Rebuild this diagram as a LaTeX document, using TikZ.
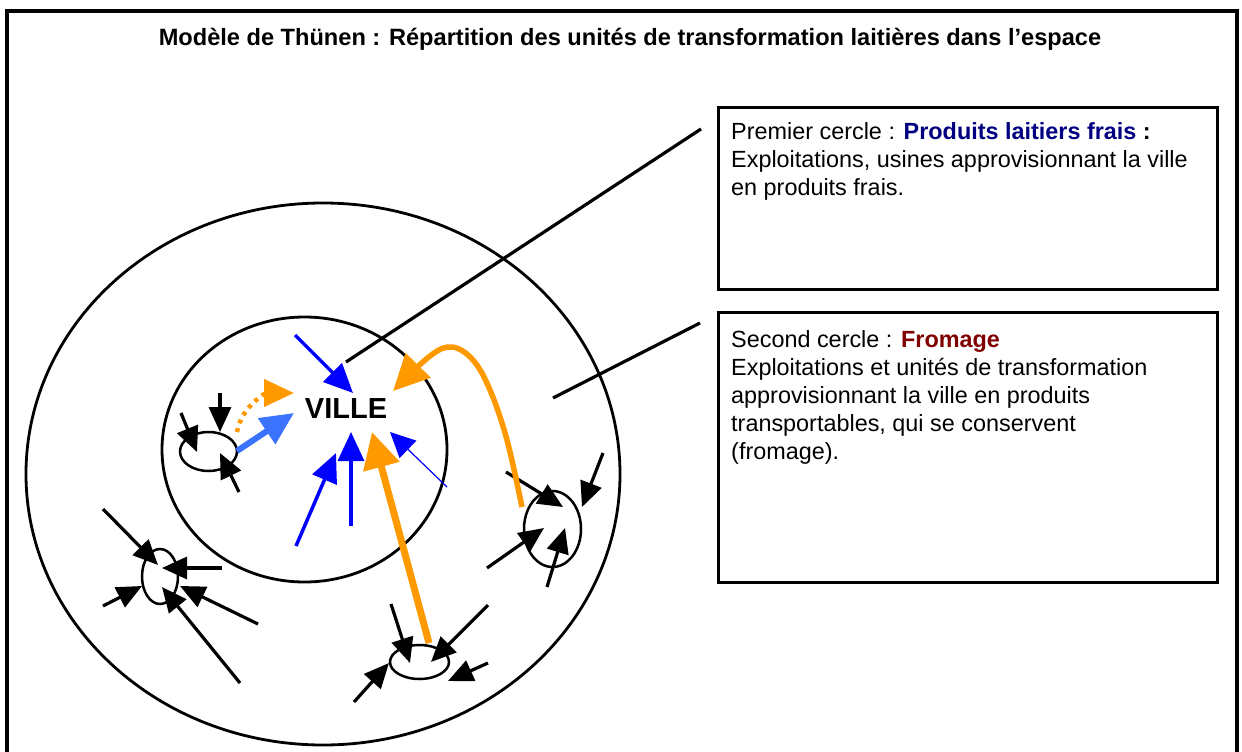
\documentclass[tikz,border=0pt]{standalone}
\usepackage{fontspec}
\setmainfont{Liberation Sans}
\usetikzlibrary{arrows.meta,shapes.geometric}
\definecolor{orng}{RGB}{255,153,0}
\definecolor{vblue}{RGB}{0,0,255}
\definecolor{lblue}{RGB}{59,115,255}
\definecolor{navyc}{RGB}{0,0,128}
\definecolor{fromred}{RGB}{128,0,0}
\begin{document}
\begin{tikzpicture}[x=1pt,y=-1pt,
  frameline/.style={line width=3.5pt},
  ring/.style={line width=2.8pt},
  boxstyle/.style={draw,line width=3pt,anchor=north west,inner sep=0pt},
  farm/.style={draw,ellipse,line width=2.5pt,inner sep=0pt},
  leader/.style={line width=3.2pt},
  blk/.style={line width=3.2pt,-{Triangle[length=25pt,width=22pt]}},
  blu/.style={vblue,line width=3.5pt,-{Triangle[length=29pt,width=26pt]}},
  thinblu/.style={vblue,line width=1.2pt,-{Triangle[length=25pt,width=24pt]}},
  lblu/.style={lblue,line width=6pt,-{Triangle[length=33pt,width=30pt]}},
  org/.style={orng,line width=7pt,-{Triangle[length=36pt,width=36pt]}},
  orgcurve/.style={orng,line width=5.5pt,-{Triangle[length=36pt,width=34pt]}},
  orgdot/.style={orng,line width=4.5pt,dash pattern=on 4pt off 5pt,-{Triangle[length=30pt,width=27pt]}},
  txt/.style={font=\fontsize{23.4}{28}\selectfont,align=left,anchor=north west,inner sep=0pt}
]
\useasboundingbox (0,0) rectangle (1242,752);
% frame
\draw[frameline] (7,752) -- (7,11) -- (1237,11) -- (1237,752);
\node[font=\bfseries\fontsize{23.6}{28}\selectfont,anchor=base] (title) at (630,46)
  {Modèle de Thünen : Répartition des unités de transformation laitières dans l’espace};
% rings
\draw[ring] (323,474) ellipse [x radius=297, y radius=271];
\draw[ring] (304.5,449.5) ellipse [x radius=142.5, y radius=132.5];
% boxes
\node[boxstyle,minimum width=499pt,minimum height=182pt] (box1) at (717,106) {};
\node[boxstyle,minimum width=499pt,minimum height=270pt] (box2) at (717,311) {};
\node[txt] (t1) at (731,122) {Premier cercle : \textcolor{navyc}{\bfseries Produits laitiers frais} \textbf{:}\\
Exploitations, usines approvisionnant la ville\\
en produits frais.};
\node[txt] (t2) at (731,330) {Second cercle : \textcolor{fromred}{\bfseries Fromage}\\
Exploitations et unités de transformation\\
approvisionnant la ville en produits\\
transportables, qui se conservent\\
(fromage).};
% city
\node[font=\bfseries\fontsize{29}{34}\selectfont] (ville) at (346,409) {VILLE};
% leaders
\coordinate (l1a) at (346,362); \coordinate (l1b) at (701,129);
\coordinate (l2a) at (553,398); \coordinate (l2b) at (700,323);
\draw[leader] (l1a) -- (l1b);
\draw[leader] (l2a) -- (l2b);
% farms
\node[farm,minimum width=57pt,minimum height=39pt] (e1) at (208.5,451.5) {};
\node[farm,minimum width=36pt,minimum height=55pt] (e2) at (160,576.5) {};
\node[farm,minimum width=59pt,minimum height=34pt] (e3) at (419.5,662) {};
\node[farm,minimum width=57pt,minimum height=76pt] (e4) at (552.5,529) {};
% black arrows
\draw[blk] (220,393) -- (220,432);
\draw[blk] (181,413) -- (197,452);
\draw[blk] (239,492) -- (220,453);
\draw[blk] (103,509) -- (158,565);
\draw[blk] (222,568) -- (162,568);
\draw[blk] (103,606) -- (142,586);
\draw[blk] (258,624) -- (180,586);
\draw[blk] (240,683) -- (162,587);
\draw[blk] (391,604) -- (410,663);
\draw[blk] (488,605) -- (431,662);
\draw[blk] (354,702) -- (389,663);
\draw[blk] (488,663) -- (448,681);
\draw[blk] (506,472) -- (563,507);
\draw[blk] (603,453) -- (582,507);
\draw[blk] (487,568) -- (544,528);
\draw[blk] (547,587) -- (565,528);
% blue arrows
\draw[blu] (295,335) -- (353,393);
\draw[blu] (296,546) -- (336,453);
\draw[blu] (351,526) -- (351,432);
\draw[thinblu] (447,487) -- (390,432);
\draw[lblu] (237,451) -- (294,413);
% orange
\draw[org] (429,643) -- (372,432);
\draw[orgcurve] plot[smooth,tension=0.6] coordinates {(522,507) (507,440) (490,390) (473,360) (452,347) (430,356) (393,391)};
\draw[orgdot] (237,432) to[out=80,in=180] (294,393);
\end{tikzpicture}
\end{document}
